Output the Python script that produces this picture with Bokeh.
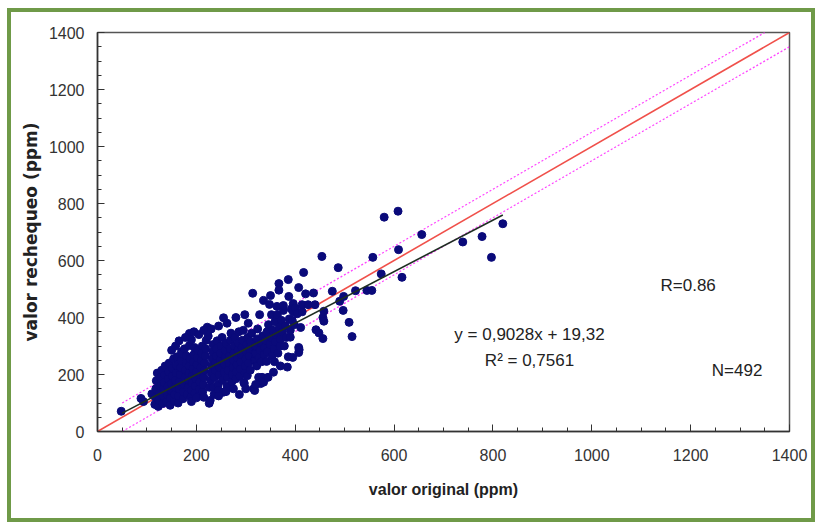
from bokeh.plotting import figure
from bokeh.models import Label, Range1d, SingleIntervalTicker
from bokeh.layouts import column
from bokeh.embed import file_html
from bokeh.resources import INLINE

# ---- data ----
x_a = [48, 88, 93, 110]
y_a = [71, 116, 105, 132]
x_b = [116, 117, 118, 119, 121, 123, 124, 126, 127, 128, 130, 132, 133, 134, 135, 136, 137]
y_b = [95, 120, 150, 178, 205, 88, 110, 135, 160, 190, 215, 98, 125, 150, 172, 198, 230]
x_c = [140, 141, 142, 143, 144, 145, 147, 148, 149, 150, 151, 152, 154, 155, 156, 157, 158, 159, 160, 161,
       163, 164, 165, 166, 167, 168, 169, 170, 172, 176, 186, 186]
y_c = [105, 130, 158, 185, 210, 240, 92, 118, 142, 168, 195, 222, 255, 108, 130, 155, 180, 205, 232, 262,
       100, 125, 150, 175, 200, 225, 250, 280, 272, 290, 302, 344]
x_d = [173, 174, 176, 177, 178, 179, 180, 182, 183, 184, 185, 186, 187, 190, 189, 190, 191, 192, 193, 194,
       195, 196, 197, 198, 199, 200, 201, 202, 203, 205, 206, 207]
y_d = [115, 140, 165, 190, 215, 240, 265, 130, 155, 180, 205, 230, 255, 322, 120, 145, 170, 195, 220, 245,
       270, 295, 135, 160, 185, 210, 235, 260, 285, 126, 150, 175]
x_e = [208, 209, 210, 211, 212, 213, 214, 215, 216, 217, 218, 219, 220, 222, 224, 226, 227, 228, 229, 230,
       231, 232, 233, 234, 235, 236, 237, 238, 239, 240]
y_e = [200, 225, 250, 275, 300, 140, 165, 190, 215, 240, 265, 290, 320, 366, 335, 99, 155, 109, 180, 205,
       230, 255, 280, 305, 155, 130, 190, 215, 240, 265]
x_f = [241, 242, 244, 245, 246, 247, 248, 249, 250, 252, 253, 255, 255, 256, 257, 258, 259, 260, 262, 263,
       264, 265, 266, 267, 268, 269, 270, 272, 273, 274, 275]
y_f = [290, 318, 165, 145, 200, 225, 250, 275, 300, 330, 180, 138, 399, 210, 235, 260, 285, 310, 160, 190,
       215, 155, 240, 265, 290, 320, 345, 175, 200, 225, 250]
x_g = [276, 277, 278, 280, 281, 282, 283, 284, 285, 286, 287, 288, 289, 290, 291, 292, 293, 295, 296, 297,
       298, 299, 300, 301, 302, 303, 304, 306, 307, 308, 309, 310]
y_g = [275, 300, 330, 185, 210, 235, 260, 285, 310, 350, 130, 195, 220, 245, 270, 295, 320, 355, 173, 168,
       205, 230, 255, 280, 305, 196, 330, 240, 265, 290, 215, 315]
x_h = [312, 314, 316, 318, 318, 319, 320, 322, 323, 324, 326, 327, 328, 329, 330, 331, 332, 333, 334, 334,
       336, 336, 337, 338, 340, 342, 343, 344]
y_h = [345, 485, 150, 144, 250, 275, 300, 230, 325, 360, 190, 260, 410, 285, 168, 310, 245, 190, 176, 335,
       173, 460, 270, 295, 320, 246, 350, 280]
x_i = [346, 348, 349, 350, 351, 352, 353, 355, 356, 357, 358, 359, 360, 362, 363, 364, 365, 367, 367, 368,
       369, 370, 372, 374, 376, 376, 378, 380, 382, 384, 386, 386, 387, 388, 390, 390, 392, 394, 396, 396,
       398, 400]
y_i = [375, 446, 305, 477, 330, 410, 265, 355, 208, 290, 245, 385, 315, 340, 439, 410, 275, 519, 496, 365,
       300, 325, 390, 350, 425, 442, 300, 370, 330, 226, 262, 533, 474, 395, 331, 355, 430, 390, 449, 420,
       375, 433]
x_j = [404, 407, 407, 407, 408, 411, 414, 414, 417, 421, 426, 437, 440, 442, 448, 454, 456, 456, 458, 458,
       475, 487, 490, 497, 498, 509, 515, 522]
y_j = [413, 277, 295, 505, 287, 365, 420, 445, 558, 483, 445, 486, 445, 357, 346, 614, 400, 326, 387, 422,
       492, 575, 457, 425, 474, 383, 333, 494]
x_k = [545, 555, 557, 574, 580, 608, 609, 616, 656, 739, 778, 797, 820]
y_k = [495, 495, 611, 553, 752, 773, 638, 541, 691, 665, 684, 611, 729]
# scattered points above and below the main cloud
x_up = [150, 158, 165, 178, 195, 205, 215, 230, 245, 262, 280, 298, 305]
y_up = [285, 300, 318, 330, 350, 340, 355, 360, 370, 380, 400, 410, 380]
x_lo = [190, 200, 215, 245, 260, 275, 300, 320, 345, 370, 395]
y_lo = [105, 118, 120, 125, 140, 150, 150, 165, 190, 230, 260]

valor_original = x_a + x_b + x_c + x_d + x_e + x_f + x_g + x_h + x_i + x_j + x_k + x_up + x_lo
valor_rechequeo = y_a + y_b + y_c + y_d + y_e + y_f + y_g + y_h + y_i + y_j + y_k + y_up + y_lo

slope, intercept = 0.9028, 19.32
fit_x = [50, 820]
band = 50
axis_max = 1400

eq_text = "y = 0,9028x + 19,32"
r2_text = "R\u00b2 = 0,7561"
r_text = "R=0.86"
n_text = "N=492"

FONT = "Liberation Sans"

p = figure(width=800, height=506, output_backend="svg", toolbar_location=None,
           x_range=Range1d(0, axis_max), y_range=Range1d(0, axis_max),
           min_border_left=86, min_border_right=22, min_border_top=20, min_border_bottom=87,
           x_axis_label="valor original (ppm)", y_axis_label="valor rechequeo (ppm)")
p.background_fill_color = "white"
p.border_fill_color = "white"
p.outline_line_color = "#555555"
p.outline_line_width = 1.5
p.grid.visible = False

for ax in (p.xaxis[0], p.yaxis[0]):
    ax.ticker = SingleIntervalTicker(interval=200, num_minor_ticks=4)
    ax.major_tick_in = 7
    ax.major_tick_out = 0
    ax.minor_tick_in = 4
    ax.minor_tick_out = 0
    ax.axis_line_color = "#333333"
    ax.axis_line_width = 1.5
    ax.major_tick_line_color = "#333333"
    ax.minor_tick_line_color = "#333333"
    ax.major_label_text_font = FONT
    ax.major_label_text_font_size = "16px"
    ax.major_label_text_color = "#333333"
    ax.axis_label_text_font_style = "bold"
    ax.axis_label_text_color = "#222222"
p.xaxis.major_label_standoff = 17
p.yaxis.major_label_standoff = 13
p.xaxis.axis_label_text_font = FONT
p.xaxis.axis_label_text_font_size = "16px"
p.xaxis.axis_label_standoff = 17
p.yaxis.axis_label_text_font = "DejaVu Sans"
p.yaxis.axis_label_text_font_size = "17px"
p.yaxis.axis_label_standoff = 5

# 1:1 line and +-band
p.line([0, axis_max], [0, axis_max], line_color="#f0504a", line_width=1.6)
p.line([band, axis_max - band], [2 * band, axis_max], line_color="#ff44ff", line_width=1.2, line_dash="2 2")
p.line([band, axis_max], [0, axis_max - band], line_color="#ff44ff", line_width=1.2, line_dash="2 2")

p.scatter(valor_original, valor_rechequeo, size=8, marker="circle",
          fill_color="#0a0a7a", line_color="#0a0a7a")

p.line(fit_x, [slope * v + intercept for v in fit_x], line_color="#1e2e22", line_width=1.6)

def lab(x, y, t, size="17px"):
    p.add_layout(Label(x=x, y=y, text=t, text_font=FONT, text_font_size=size,
                       text_color="#222222", text_align="center", text_baseline="middle"))

lab(874, 340, eq_text)
lab(874, 249, r2_text)
lab(1195, 512, r_text)
lab(1294, 214, n_text)

layout = column(p, styles={"border": "4px solid #6f9a48", "margin-left": "7px", "margin-top": "8px"})
open("out.html", "w").write(file_html(layout, INLINE))
